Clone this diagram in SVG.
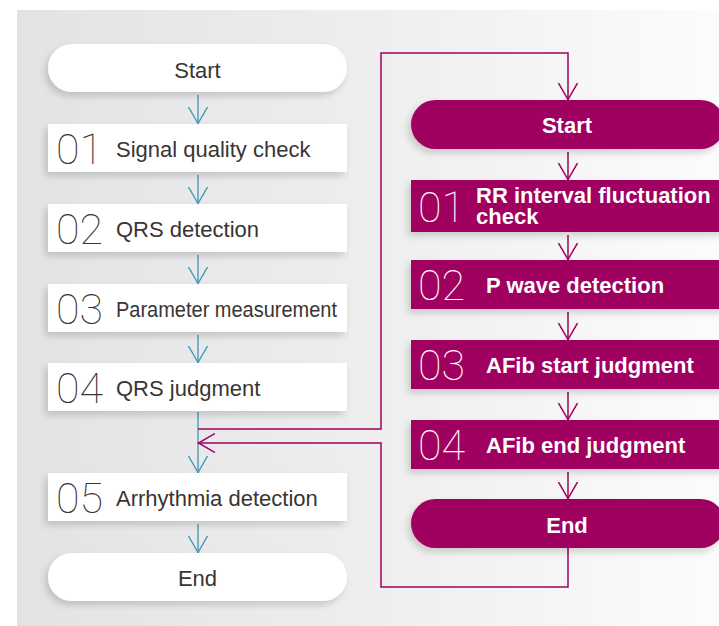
<svg xmlns="http://www.w3.org/2000/svg" width="719" height="626" viewBox="0 0 719 626">
<defs>
<linearGradient id="bg" x1="0" y1="0" x2="1" y2="0">
<stop offset="0" stop-color="#e2e3e4"/>
<stop offset="0.5" stop-color="#eeeeef"/>
<stop offset="1" stop-color="#fcfcfc"/>
</linearGradient>
<filter id="sh" x="-10%" y="-30%" width="120%" height="170%">
<feDropShadow dx="-3" dy="4" stdDeviation="3.5" flood-color="#000" flood-opacity="0.16"/>
</filter>
<marker id="ab" viewBox="0 0 18 20" refX="17" refY="10" markerWidth="18" markerHeight="20" markerUnits="userSpaceOnUse" orient="auto">
<path d="M0,0.5 L16.5,10 L0,19.5" fill="none" stroke="#3d97b6" stroke-width="1.3"/>
</marker>
<marker id="am" viewBox="0 0 18 20" refX="17" refY="10" markerWidth="18" markerHeight="20" markerUnits="userSpaceOnUse" orient="auto">
<path d="M0,0.5 L16.5,10 L0,19.5" fill="none" stroke="#a0005f" stroke-width="1.5"/>
</marker>
</defs>
<style>
.wb{fill:#ffffff;filter:url(#sh)}
.mb{fill:#a0005f;filter:url(#sh)}
.lt{font-family:"Liberation Sans",Arial,sans-serif;font-size:22px;fill:#3a3434}
.num{font-family:Roboto,"Liberation Sans",sans-serif;font-weight:100;font-size:43px}
.ln{fill:#3a3434}
.rt{font-family:"Liberation Sans",Arial,sans-serif;font-weight:bold;font-size:22px;fill:#ffffff}
.rn{fill:#ffffff}
.bl{stroke:#3d97b6;stroke-width:1.3;fill:none;marker-end:url(#ab)}
.mg{stroke:#a0005f;stroke-width:1.5;fill:none;marker-end:url(#am)}
</style>
<rect x="17" y="10" width="702" height="616" fill="url(#bg)"/>

<g id="connectors">
<line class="bl" x1="198" y1="95" x2="198" y2="124"/>
<line class="bl" x1="198" y1="175" x2="198" y2="204"/>
<line class="bl" x1="198" y1="255" x2="198" y2="284"/>
<line class="bl" x1="198" y1="335" x2="198" y2="363"/>
<line class="bl" x1="198" y1="412" x2="198" y2="473"/>
<line class="bl" x1="198" y1="524" x2="198" y2="553"/>
<polyline class="mg" points="198,429 381,429 381,53 568,53 568,100"/>
<line class="mg" x1="568" y1="152" x2="568" y2="180"/>
<line class="mg" x1="568" y1="235" x2="568" y2="260"/>
<line class="mg" x1="568" y1="312" x2="568" y2="340"/>
<line class="mg" x1="568" y1="392" x2="568" y2="420"/>
<line class="mg" x1="568" y1="472" x2="568" y2="499"/>
<polyline class="mg" points="568,548 568,587 381,587 381,443 198,443"/>
</g>

<g id="l-start"><rect class="wb" x="48" y="44" width="299" height="48" rx="24"/><text class="lt" x="197.5" y="78" text-anchor="middle">Start</text></g>
<g id="l-01"><rect class="wb" x="48" y="124" width="299" height="48"/><text class="num ln" x="56" y="164">01</text><text class="lt" x="116" y="157">Signal quality check</text></g>
<g id="l-02"><rect class="wb" x="48" y="204" width="299" height="48"/><text class="num ln" x="56" y="244">02</text><text class="lt" x="116" y="237">QRS detection</text></g>
<g id="l-03"><rect class="wb" x="48" y="284" width="299" height="48"/><text class="num ln" x="56" y="324">03</text><text class="lt" x="116" y="317" textLength="221" lengthAdjust="spacingAndGlyphs">Parameter measurement</text></g>
<g id="l-04"><rect class="wb" x="48" y="363" width="299" height="48"/><text class="num ln" x="56" y="403">04</text><text class="lt" x="116" y="396">QRS judgment</text></g>
<g id="l-05"><rect class="wb" x="48" y="473" width="299" height="48"/><text class="num ln" x="56" y="513">05</text><text class="lt" x="116" y="506">Arrhythmia detection</text></g>
<g id="l-end"><rect class="wb" x="48" y="553" width="299" height="48" rx="24"/><text class="lt" x="197.5" y="586" text-anchor="middle">End</text></g>

<g id="r-start"><rect class="mb" x="411" y="100" width="314" height="49" rx="24.5"/><text class="rt" x="567" y="133" text-anchor="middle">Start</text></g>
<g id="r-01"><rect class="mb" x="411" y="180" width="314" height="52"/><text class="num rn" x="418" y="222">01</text><text class="rt" x="476" y="203">RR interval fluctuation</text><text class="rt" x="476" y="224">check</text></g>
<g id="r-02"><rect class="mb" x="411" y="260" width="314" height="49"/><text class="num rn" x="418" y="300">02</text><text class="rt" x="486" y="293">P wave detection</text></g>
<g id="r-03"><rect class="mb" x="411" y="340" width="314" height="49"/><text class="num rn" x="418" y="380">03</text><text class="rt" x="486" y="373">AFib start judgment</text></g>
<g id="r-04"><rect class="mb" x="411" y="420" width="314" height="49"/><text class="num rn" x="418" y="460">04</text><text class="rt" x="486" y="453">AFib end judgment</text></g>
<g id="r-end"><rect class="mb" x="411" y="499" width="314" height="49" rx="24.5"/><text class="rt" x="567" y="533" text-anchor="middle">End</text></g>
</svg>
